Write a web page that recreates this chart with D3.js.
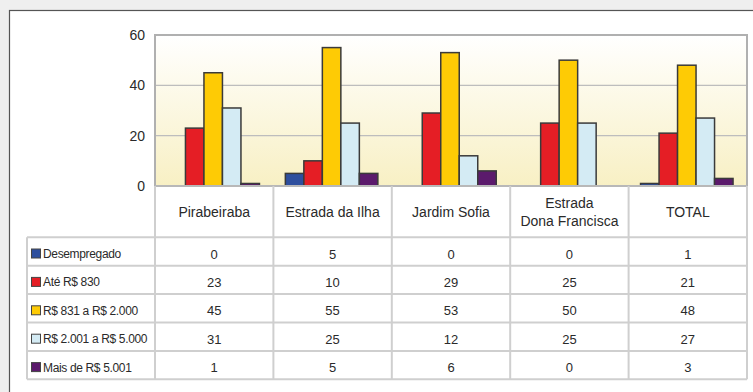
<!DOCTYPE html>
<html>
<head>
<meta charset="utf-8">
<script src="https://cdn.jsdelivr.net/npm/d3@7"></script>
<style>
  html, body { margin: 0; padding: 0; background: #efefef; }
  svg { display: block; font-family: "Liberation Sans", Arial, sans-serif; }
</style>
</head>
<body>
<svg id="chart" width="753" height="392"></svg>
<script>
// Income bands per district
const categories = ["Pirabeiraba", "Estrada da Ilha", "Jardim Sofia", "Estrada\nDona Francisca", "TOTAL"];
const seriesNames = ["Desempregado", "Até R$ 830", "R$ 831 a R$ 2.000", "R$ 2.001 a R$ 5.000", "Mais de R$ 5.001"];
const desempregado = [0, 5, 0, 0, 1];
const ate830 = [23, 10, 29, 25, 21];
const de831a2000 = [45, 55, 53, 50, 48];
const de2001a5000 = [31, 25, 12, 25, 27];
const maisDe5001 = [1, 5, 6, 0, 3];
const yTicks = [0, 20, 40, 60];
const seriesColors = ["#2e4f9e", "#e51e25", "#fecb05", "#d4ebf4", "#5b1a6c"];

const seriesValues = [desempregado, ate830, de831a2000, de2001a5000, maisDe5001];

const svg = d3.select("#chart");

// page backdrop and white card
svg.append("rect").attr("width", 753).attr("height", 392).attr("fill", "#efefef");
svg.append("rect").attr("x", 9.5).attr("y", 10.5).attr("width", 760).attr("height", 400)
  .attr("fill", "#ffffff").attr("stroke", "#555").attr("stroke-width", 1.2);

const plot = { left: 155, right: 747, top: 35, bottom: 186 };
const table = { left: 27, headerBottom: 237.3, rowH: 28.4 };

const x = d3.scaleBand().domain(categories).range([plot.left, plot.right]);
const xs = d3.scaleBand().domain(seriesNames).range([0, x.bandwidth()]).paddingOuter(0.7).paddingInner(0);
const y = d3.scaleLinear().domain([0, 60]).range([plot.bottom, plot.top]);

// plot background gradient
const defs = svg.append("defs");
const grad = defs.append("linearGradient").attr("id", "plotBg").attr("x1", 0).attr("y1", 0).attr("x2", 0).attr("y2", 1);
grad.append("stop").attr("offset", "0%").attr("stop-color", "#ffffff");
grad.append("stop").attr("offset", "100%").attr("stop-color", "#f8f0c4");

svg.append("rect").attr("x", plot.left).attr("y", plot.top)
  .attr("width", plot.right - plot.left).attr("height", plot.bottom - plot.top)
  .attr("fill", "url(#plotBg)");

// gridlines
svg.append("g").selectAll("line").data(yTicks.filter(d => d > 0 && d < 60)).join("line")
  .attr("x1", plot.left).attr("x2", plot.right)
  .attr("y1", d => y(d)).attr("y2", d => y(d))
  .attr("stroke", "#bdbdbd").attr("stroke-width", 1.2);

// y axis labels
const yAxis = svg.append("g").attr("transform", `translate(${plot.left},0)`)
  .call(d3.axisLeft(y).tickValues(yTicks).tickSize(0).tickPadding(10));
yAxis.select(".domain").remove();
yAxis.selectAll("text").attr("font-size", 14).attr("fill", "#2a2a2a")
  .attr("font-family", "Liberation Sans, Arial, sans-serif");

// bars
const barData = [];
categories.forEach((c, ci) => {
  seriesNames.forEach((s, si) => {
    barData.push({ c, s, v: seriesValues[si][ci], color: seriesColors[si] });
  });
});
svg.append("g").selectAll("rect").data(barData.filter(d => d.v > 0)).join("rect")
  .attr("x", d => x(d.c) + xs(d.s) - 1)
  .attr("y", d => y(d.v))
  .attr("width", xs.bandwidth())
  .attr("height", d => y(0) - y(d.v))
  .attr("fill", d => d.color)
  .attr("stroke", "#3a3a3a").attr("stroke-width", 1.5);

// plot frame
svg.append("path")
  .attr("d", `M${plot.left},${plot.bottom}V${plot.top}H${plot.right}V${plot.bottom}`)
  .attr("fill", "none").attr("stroke", "#b0b0b0").attr("stroke-width", 2);
svg.append("line").attr("x1", plot.left).attr("x2", plot.right)
  .attr("y1", plot.bottom).attr("y2", plot.bottom)
  .attr("stroke", "#b8b8b8").attr("stroke-width", 2);

// data table grid
const tableBottom = table.headerBottom + table.rowH * seriesNames.length;
const grid = svg.append("g").attr("stroke", "#cfcfcf").attr("stroke-width", 2);
d3.range(seriesNames.length + 1).forEach(i => {
  const yy = table.headerBottom + i * table.rowH;
  grid.append("line").attr("x1", table.left).attr("x2", plot.right).attr("y1", yy).attr("y2", yy);
});
grid.append("line").attr("x1", table.left).attr("x2", table.left).attr("y1", table.headerBottom).attr("y2", tableBottom);
categories.forEach(c => {
  grid.append("line").attr("x1", x(c)).attr("x2", x(c)).attr("y1", plot.bottom).attr("y2", tableBottom);
});
grid.append("line").attr("x1", plot.right).attr("x2", plot.right).attr("y1", plot.bottom).attr("y2", tableBottom);

// category headers
const headers = svg.append("g").attr("font-size", 14).attr("fill", "#2a2a2a").attr("text-anchor", "middle");
categories.forEach(c => {
  const lines = c.split("\n");
  const cx = x(c) + x.bandwidth() / 2;
  const midY = (plot.bottom + table.headerBottom) / 2;
  lines.forEach((ln, i) => {
    headers.append("text").attr("x", cx)
      .attr("y", midY + (i - (lines.length - 1) / 2) * 18 + 5)
      .text(ln);
  });
});

// legend column and values
const rows = svg.append("g");
seriesNames.forEach((s, si) => {
  const ry = table.headerBottom + si * table.rowH;
  const cy = ry + table.rowH / 2 + 2;
  rows.append("rect").attr("x", 31.5).attr("y", cy - 4.5).attr("width", 9).attr("height", 9)
    .attr("fill", seriesColors[si]).attr("stroke", "#444").attr("stroke-width", 1);
  rows.append("text").attr("x", 43).attr("y", cy + 4.5)
    .attr("font-size", 12).attr("fill", "#2a2a2a").attr("letter-spacing", -0.35).text(s);
  categories.forEach((c, ci) => {
    rows.append("text").attr("x", x(c) + x.bandwidth() / 2).attr("y", cy + 5)
      .attr("text-anchor", "middle").attr("font-size", 13).attr("fill", "#2a2a2a")
      .text(seriesValues[si][ci]);
  });
});
</script>
</body>
</html>
